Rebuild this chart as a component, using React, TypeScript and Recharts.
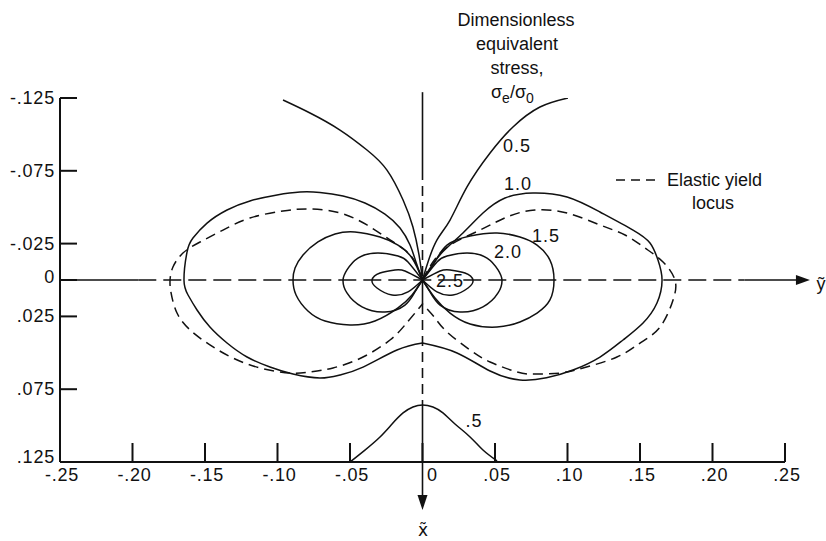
import React from 'react';
import { ComposedChart, Line, XAxis, YAxis, ReferenceLine, ReferenceDot } from 'recharts';

type Pt = [number, number];

const INK = '#111';
const FONT = "'Liberation Sans', Arial, sans-serif";

// Axis ticks (ỹ across, x̃ downward) and their printed labels
const xTicks = [-0.25, -0.2, -0.15, -0.1, -0.05, 0, 0.05, 0.1, 0.15, 0.2, 0.25];
const xTickLabels = ['-.25', '-.20', '-.15', '-.10', '-.05', '0', '.05', '.10', '.15', '.20', '.25'];
const yTicks = [-0.125, -0.075, -0.025, 0, 0.025, 0.075, 0.125];
const yTickLabels = ['-.125', '-.075', '-.025', '0', '.025', '.075', '.125'];

// σe/σ0 = 0.5 : two branches above the tip and the bump near the bottom edge
const s05UpperLeft: Pt[] = [
  [0, 0], [-0.0024, -0.0172], [-0.0066, -0.0364], [-0.0134, -0.0549], [-0.0245, -0.0755],
  [-0.0383, -0.0893], [-0.0569, -0.103], [-0.0776, -0.1147], [-0.0962, -0.1236],
];
const s05UpperRight: Pt[] = [
  [0, 0], [0.0038, -0.0124], [0.01, -0.0275], [0.019, -0.0412], [0.0307, -0.0639],
  [0.0466, -0.0872], [0.0624, -0.1051], [0.081, -0.1188], [0.1003, -0.125],
];
const s05Lower: Pt[] = [
  [-0.05, 0.125], [-0.0397, 0.1168], [-0.0293, 0.1078], [-0.021, 0.0989], [-0.0134, 0.0913],
  [-0.0066, 0.0872], [0, 0.0858], [0.0072, 0.0872], [0.0141, 0.0913], [0.0224, 0.0989],
  [0.0328, 0.1078], [0.0417, 0.1168], [0.0514, 0.1243],
];

// σe/σ0 = 1.0 : left and right halves, each from the tip round to the lower bump
const s10Left: Pt[] = [
  [0, 0], [-0.0045, -0.0124], [-0.0086, -0.024], [-0.0155, -0.0357], [-0.0259, -0.0453],
  [-0.0397, -0.0529], [-0.0548, -0.0577], [-0.0707, -0.0601], [-0.0845, -0.0604],
  [-0.1003, -0.0584], [-0.119, -0.0543], [-0.1348, -0.0481], [-0.1486, -0.0391],
  [-0.1583, -0.0288], [-0.1624, -0.0192], [-0.1645, 0], [-0.1617, 0.0103], [-0.1555, 0.0206],
  [-0.1466, 0.0323], [-0.1348, 0.0433], [-0.121, 0.0529], [-0.1052, 0.0598], [-0.0893, 0.0646],
  [-0.0707, 0.0673], [-0.0569, 0.0652], [-0.041, 0.0598], [-0.0176, 0.0481], [0, 0.0433],
];
const s10Right: Pt[] = [
  [0, 0], [0.0052, -0.0082], [0.0138, -0.0192], [0.0279, -0.0323], [0.0417, -0.046],
  [0.0569, -0.0563], [0.0762, -0.0598], [0.0997, -0.057], [0.1224, -0.0467], [0.1452, -0.0343],
  [0.1569, -0.0254], [0.1624, -0.0137], [0.1652, 0], [0.1617, 0.0158], [0.1521, 0.0295],
  [0.1383, 0.0412], [0.1224, 0.0529], [0.1038, 0.0618], [0.0855, 0.0672], [0.0672, 0.0687],
  [0.0466, 0.0625], [0.0238, 0.0501], [0, 0.0433],
];

// σe/σ0 = 1.5 : closed lobes through the tip
const s15Left: Pt[] = [
  [0, 0], [-0.0072, -0.0151], [-0.0169, -0.024], [-0.0293, -0.0295], [-0.0466, -0.033],
  [-0.0603, -0.0316], [-0.0721, -0.0261], [-0.0824, -0.0172], [-0.0879, -0.0082], [-0.0893, 0],
  [-0.0872, 0.0103], [-0.079, 0.0213], [-0.0672, 0.0282], [-0.05, 0.0309], [-0.0328, 0.0282],
  [-0.0169, 0.0192], [-0.0072, 0.0103], [0, 0],
];
const s15Right: Pt[] = [
  [0, 0], [0.0086, -0.0124], [0.0169, -0.024], [0.0328, -0.0302], [0.0514, -0.0323],
  [0.0672, -0.0295], [0.079, -0.024], [0.0879, -0.0137], [0.0907, 0], [0.0879, 0.0137],
  [0.079, 0.0227], [0.0672, 0.0288], [0.0514, 0.0323], [0.0328, 0.0302], [0.019, 0.0227],
  [0.0086, 0.0124], [0, 0],
];

// σe/σ0 = 2.0
const s20Left: Pt[] = [
  [0, 0], [-0.01, -0.0124], [-0.0169, -0.0165], [-0.0307, -0.0185], [-0.0445, -0.0151],
  [-0.0521, -0.0069], [-0.0548, 0], [-0.0521, 0.0089], [-0.0417, 0.0185], [-0.0259, 0.022],
  [-0.0121, 0.0172], [-0.0052, 0.0082], [0, 0],
];
const s20Right: Pt[] = [
  [0, 0], [0.01, -0.0124], [0.0169, -0.0165], [0.0307, -0.0185], [0.0445, -0.0151],
  [0.0521, -0.0069], [0.0548, 0], [0.0521, 0.0089], [0.0417, 0.0185], [0.0259, 0.022],
  [0.0121, 0.0172], [0.0052, 0.0082], [0, 0],
];

// σe/σ0 = 2.5
const s25Left: Pt[] = [
  [0, 0], [-0.0121, -0.0062], [-0.019, -0.0069], [-0.0293, -0.0048], [-0.0348, 0],
  [-0.0314, 0.0055], [-0.021, 0.0103], [-0.01, 0.0082], [0, 0],
];
const s25Right: Pt[] = [
  [0, 0], [0.0121, -0.0062], [0.019, -0.0069], [0.0293, -0.0048], [0.0348, 0],
  [0.0314, 0.0055], [0.021, 0.0103], [0.01, 0.0082], [0, 0],
];

// Elastic yield locus (dashed): tip -> lobe -> cusp on the x̃ axis
const elasticLeft: Pt[] = [
  [0, 0], [-0.0052, -0.0124], [-0.0121, -0.0206], [-0.0224, -0.0275], [-0.0383, -0.0378],
  [-0.0569, -0.046], [-0.0776, -0.0488], [-0.0962, -0.0474], [-0.119, -0.0426], [-0.1376, -0.0343],
  [-0.1534, -0.0261], [-0.1652, -0.0185], [-0.1721, -0.0089], [-0.1741, 0], [-0.1734, 0.0089],
  [-0.1693, 0.0227], [-0.1603, 0.0343], [-0.1466, 0.0446], [-0.1307, 0.0536], [-0.1121, 0.0604],
  [-0.0914, 0.0639], [-0.0776, 0.0632], [-0.0617, 0.0604], [-0.041, 0.0529], [-0.0224, 0.0412],
  [-0.0121, 0.0309], [0, 0.0165],
];
const elasticRight: Pt[] = [
  [0, 0], [0.0072, -0.0124], [0.019, -0.024], [0.0397, -0.0343], [0.0583, -0.0433],
  [0.0776, -0.0481], [0.0997, -0.046], [0.1224, -0.0378], [0.1397, -0.0309], [0.1534, -0.022],
  [0.1659, -0.0124], [0.1741, 0], [0.1728, 0.0137], [0.1638, 0.0323], [0.15, 0.0433],
  [0.1341, 0.0529], [0.1107, 0.0604], [0.0948, 0.0639], [0.0776, 0.0646], [0.0652, 0.0632],
  [0.0466, 0.0563], [0.0328, 0.0481], [0.0169, 0.0357], [0.0086, 0.0261], [0, 0.0165],
];

// Contour value labels and where they sit
const contourLabels = ['0.5', '1.0', '1.5', '2.0', '2.5', '.5'];
const contourLabelX = [0.0652, 0.0659, 0.0852, 0.059, 0.019, 0.0355];
const contourLabelY = [-0.0927, -0.0666, -0.0309, -0.0199, 0, 0.0962];

const solidCurves = [s05UpperLeft, s05UpperRight, s05Lower, s10Left, s10Right, s15Left, s15Right, s20Left, s20Right, s25Left, s25Right];
const dashedCurves = [elasticLeft, elasticRight];

const toRows = (pts: Pt[]) => pts.map(([x, y]) => ({ x, y }));

const textStyle = { fontFamily: FONT, fontSize: 18, fill: INK } as const;

const XTick = (props: any) => {
  const { x, y, index } = props;
  const first = index === 0;
  const label = xTickLabels[index];
  return (
    <g>
      {!first && <line x1={x} y1={y} x2={x} y2={y - 19} stroke={INK} strokeWidth={2} />}
      <text x={x + (label === '0' ? 10 : 2)} y={y + 19} textAnchor="middle" letterSpacing={0.8} {...textStyle}>
        {label}
      </text>
    </g>
  );
};

const YTick = (props: any) => {
  const { x, y, index } = props;
  const label = yTickLabels[index];
  const shift = label === '.125' ? -5 : label === '0' ? -3 : 0;
  return (
    <g>
      <line x1={x} y1={y} x2={x + 17} y2={y} stroke={INK} strokeWidth={2} />
      <text x={x - 5} y={y + 6 + shift} textAnchor="end" letterSpacing={0.8} {...textStyle}>
        {label}
      </text>
    </g>
  );
};

const arrowRight = (p: any) => <path d={`M${p.cx},${p.cy} l-14,-5 l0,10 z`} fill={INK} />;
const arrowDown = (p: any) => <path d={`M${p.cx},${p.cy} l-5,-15 l10,0 z`} fill={INK} />;

export default function App() {
  return (
    <div style={{ width: 826, height: 541, background: '#fff' }}>
      <style>{'body{margin:0}'}</style>
      <ComposedChart width={826} height={541} margin={{ top: 98, right: 41, bottom: 39, left: 0 }}>
        <XAxis
          type="number"
          dataKey="x"
          domain={[-0.25, 0.25]}
          ticks={xTicks}
          interval={0}
          allowDataOverflow
          height={40}
          tickSize={0}
          tickMargin={0}
          tickLine={false}
          axisLine={{ stroke: INK, strokeWidth: 2 }}
          tick={(p: any) => <XTick {...p} />}
        />
        <YAxis
          type="number"
          dataKey="y"
          domain={[-0.125, 0.125]}
          reversed
          ticks={yTicks}
          interval={0}
          allowDataOverflow
          width={60}
          tickSize={0}
          tickMargin={0}
          tickLine={false}
          axisLine={{ stroke: INK, strokeWidth: 2 }}
          tick={(p: any) => <YTick {...p} />}
        />

        {/* ỹ axis through the crack tip */}
        <ReferenceLine segment={[{ x: -0.25, y: 0 }, { x: -0.196, y: 0 }]} stroke={INK} strokeWidth={1.6} ifOverflow="visible" />
        <ReferenceLine segment={[{ x: -0.196, y: 0 }, { x: 0.222, y: 0 }]} stroke={INK} strokeWidth={1.6} strokeDasharray="18 7" ifOverflow="visible" />
        <ReferenceLine segment={[{ x: 0.222, y: 0 }, { x: 0.262, y: 0 }]} stroke={INK} strokeWidth={1.6} ifOverflow="visible" />
        <ReferenceDot x={0.2672} y={0} r={0} ifOverflow="visible" shape={arrowRight} />

        {/* x̃ axis */}
        <ReferenceLine segment={[{ x: 0, y: -0.129 }, { x: 0, y: -0.0755 }]} stroke={INK} strokeWidth={1.6} ifOverflow="visible" />
        <ReferenceLine segment={[{ x: 0, y: -0.0755 }, { x: 0, y: 0 }]} stroke={INK} strokeWidth={1.6} strokeDasharray="10 6" ifOverflow="visible" />
        <ReferenceLine segment={[{ x: 0, y: 0 }, { x: 0, y: 0.0165 }]} stroke={INK} strokeWidth={1.6} ifOverflow="visible" />
        <ReferenceLine segment={[{ x: 0, y: 0.0165 }, { x: 0, y: 0.0858 }]} stroke={INK} strokeWidth={1.6} strokeDasharray="10 6" ifOverflow="visible" />
        <ReferenceLine segment={[{ x: 0, y: 0.0858 }, { x: 0, y: 0.15 }]} stroke={INK} strokeWidth={1.6} ifOverflow="visible" />
        <ReferenceDot x={0} y={0.158} r={0} ifOverflow="visible" shape={arrowDown} />

        {dashedCurves.map((c, i) => (
          <Line
            key={`e${i}`}
            data={toRows(c)}
            dataKey="y"
            type="natural"
            stroke={INK}
            strokeWidth={1.5}
            strokeDasharray="10 6"
            dot={false}
            activeDot={false}
            isAnimationActive={false}
          />
        ))}
        {solidCurves.map((c, i) => (
          <Line
            key={`s${i}`}
            data={toRows(c)}
            dataKey="y"
            type="natural"
            stroke={INK}
            strokeWidth={1.5}
            dot={false}
            activeDot={false}
            isAnimationActive={false}
          />
        ))}

        {contourLabels.map((t, i) => (
          <ReferenceDot
            key={`l${i}`}
            x={contourLabelX[i]}
            y={contourLabelY[i]}
            r={0}
            ifOverflow="visible"
            shape={(p: any) => (
              <text x={p.cx} y={p.cy + 7} textAnchor="middle" letterSpacing={1} {...textStyle}>
                {t}
              </text>
            )}
          />
        ))}

        {/* heading over the plot */}
        <text x={516} y={26} textAnchor="middle" {...textStyle}>Dimensionless</text>
        <text x={517} y={50} textAnchor="middle" {...textStyle}>equivalent</text>
        <text x={517} y={74} textAnchor="middle" {...textStyle}>stress,</text>
        <text x={491} y={98} {...textStyle}>
          σ<tspan dy={5} fontSize={14}>e</tspan>
          <tspan dy={-5}>/σ</tspan>
          <tspan dy={5} fontSize={14}>0</tspan>
        </text>

        {/* key for the dashed curve */}
        <line x1={616} y1={180} x2={655} y2={180} stroke={INK} strokeWidth={1.5} strokeDasharray="9 6" />
        <text x={667} y={186} {...textStyle}>Elastic yield</text>
        <text x={713} y={209} textAnchor="middle" {...textStyle}>locus</text>

        {/* axis names */}
        <text x={821} y={290} textAnchor="middle" {...textStyle}>ỹ</text>
        <text x={423} y={536} textAnchor="middle" fontFamily="'DejaVu Sans', sans-serif" fontSize={17} fill={INK}>x̃</text>
      </ComposedChart>
    </div>
  );
}
